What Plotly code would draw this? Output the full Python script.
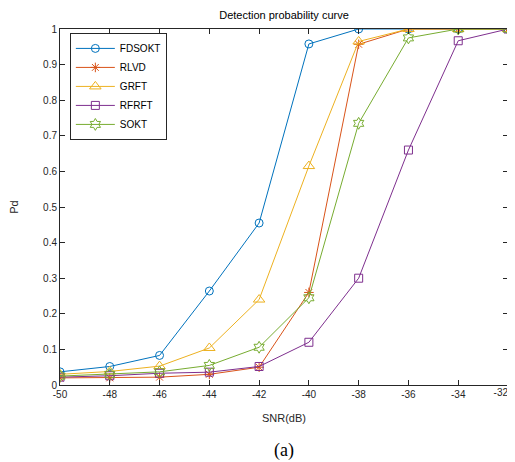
import plotly.graph_objects as go

snr = [-50, -48, -46, -44, -42, -40, -38, -36, -34, -32]
fdsokt = [0.037, 0.052, 0.083, 0.264, 0.455, 0.958, 1.0, 1.0, 1.0, 1.0]
rlvd = [0.020, 0.020, 0.022, 0.030, 0.050, 0.260, 0.957, 1.0, 1.0, 1.0]
grft = [0.030, 0.038, 0.053, 0.104, 0.240, 0.615, 0.965, 1.0, 1.0, 1.0]
rfrft = [0.022, 0.026, 0.033, 0.036, 0.052, 0.120, 0.300, 0.660, 0.967, 1.0]
sokt = [0.025, 0.030, 0.037, 0.055, 0.106, 0.245, 0.735, 0.975, 1.0, 1.0]

series = [
    ("FDSOKT", fdsokt, "#0072BD", "circle-open", 8),
    ("RLVD", rlvd, "#D95319", "asterisk-open", 8),
    ("GRFT", grft, "#EDB120", "triangle-up-open", 10),
    ("RFRFT", rfrft, "#7E2F8E", "square-open", 8),
    ("SOKT", sokt, "#77AC30", "hexagram-open", 9),
]

fig = go.Figure()
for name, ys, color, sym, msize in series:
    fig.add_trace(go.Scatter(
        x=snr, y=ys, name=name, mode="lines+markers",
        line=dict(color=color, width=1),
        marker=dict(symbol=sym, size=msize, color=color, line=dict(color=color, width=1)),
    ))

tickfont = dict(family="Arial, Liberation Sans, sans-serif", size=10, color="#262626")
axis_common = dict(
    showline=True, linecolor="#262626", linewidth=1, mirror="ticks",
    ticks="inside", ticklen=5, tickcolor="#262626", showgrid=False, zeroline=False,
    automargin=False, ticklabeloverflow="allow", tickfont=tickfont,
)

# last x tick label drawn by an overlay axis, right-aligned so it stays inside the page
x_main_text = [str(v) for v in snr[:-1]] + [""]

fig.update_layout(
    width=515, height=454,
    margin=dict(l=52, r=15, t=21, b=77),
    paper_bgcolor="white", plot_bgcolor="white",
    font=dict(family="Arial, Liberation Sans, sans-serif", size=11, color="#262626"),
    title=dict(text="Detection probability curve", x=0.5, xref="paper", yref="container",
               y=0.984, yanchor="middle", font=dict(size=11, color="#000000")),
    xaxis=dict(range=[snr[0], snr[-1]], tickmode="array", tickvals=snr,
               ticktext=x_main_text,
               title=dict(text="SNR(dB)", standoff=15, font=dict(size=11)), **axis_common),
    xaxis2=dict(range=[snr[0], snr[-1]], overlaying="x", anchor="y", side="bottom",
                tickmode="array", tickvals=[snr[-1]], ticktext=[str(snr[-1])],
                ticklabelposition="outside left", ticks="", showline=False,
                showgrid=False, zeroline=False, automargin=False,
                ticklabeloverflow="allow", tickfont=tickfont),
    yaxis=dict(range=[0, 1], tickmode="array", tickvals=[i / 10 for i in range(11)],
               ticktext=["0"] + [f"0.{i}" for i in range(1, 10)] + ["1"],
               title=dict(text="Pd", standoff=23, font=dict(size=11)), **axis_common),
    legend=dict(x=0.022, y=0.989, xanchor="left", yanchor="top",
                bgcolor="white", bordercolor="#262626", borderwidth=1,
                font=dict(size=10, color="#000000"), tracegroupgap=0,
                itemwidth=39),
    showlegend=True,
)

# invisible helper trace so the overlay axis is rendered
fig.add_trace(go.Scatter(x=[snr[-1]], y=[None], xaxis="x2", yaxis="y",
                         showlegend=False, hoverinfo="skip", mode="markers"))

fig.add_annotation(text="(a)", xref="paper", yref="paper", x=0.5, y=-0.185, yanchor="middle",
                   showarrow=False, font=dict(family="Liberation Serif, Times New Roman, serif", size=18, color="#000000"))

fig.write_html("out.html")
